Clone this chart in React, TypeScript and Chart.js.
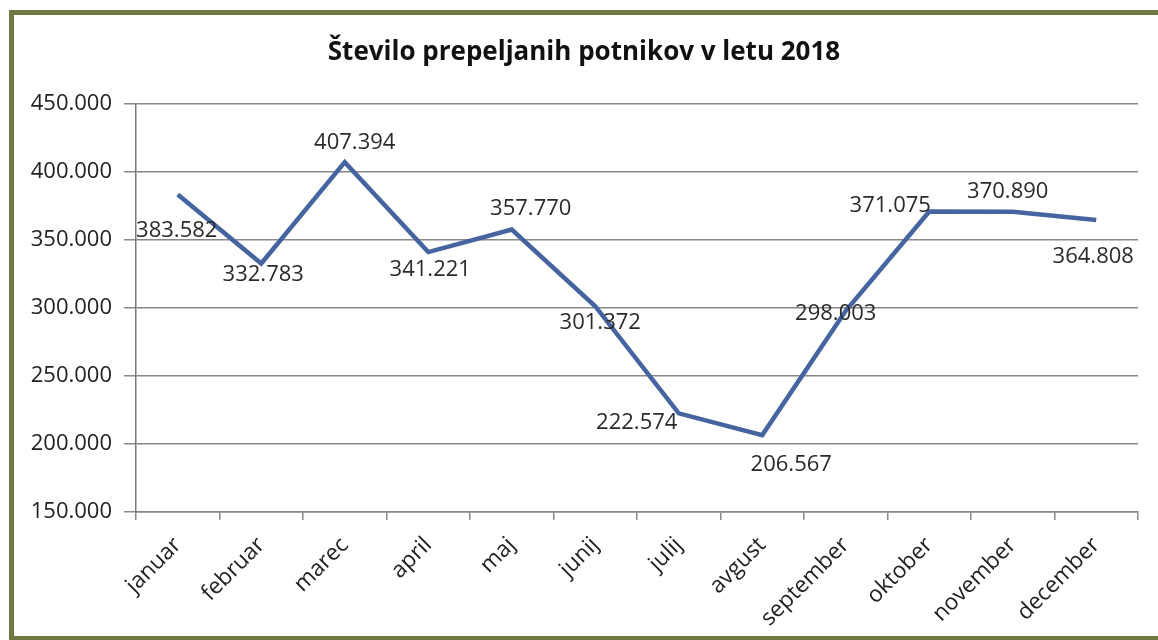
import React, { useEffect, useRef } from "react";
import { Chart, registerables } from "chart.js";

Chart.register(...registerables);

const chartTitle = "Število prepeljanih potnikov v letu 2018";
const months = [
  "januar", "februar", "marec", "april", "maj", "junij",
  "julij", "avgust", "september", "oktober", "november", "december",
];
const passengers = [
  383582, 332783, 407394, 341221, 357770, 301372,
  222574, 206567, 298003, 371075, 370890, 364808,
];
const yMin = 150000;
const yMax = 450000;
const yStep = 50000;

// label offsets (px) relative to each point: style only
const labelOffsets: [number, number][] = [
  [-1, 36], [2, 11], [10, -19], [2, 18], [19, -21], [5, 16],
  [-42, 9], [29, 30], [-10, 3], [-39, -6], [-5, -20], [-3, 37],
];

const FONT = "'Open Sans', 'DejaVu Sans', sans-serif";

function fmt(v: number): string {
  return Math.round(v).toString().replace(/\B(?=(\d{3})+(?!\d))/g, ".");
}

const dataLabelPlugin = {
  id: "dataLabels",
  afterDatasetsDraw(chart: any) {
    const ctx = chart.ctx;
    const meta = chart.getDatasetMeta(0);
    ctx.save();
    ctx.font = `22px ${FONT}`;
    ctx.fillStyle = "#2a2a2a";
    ctx.textAlign = "center";
    ctx.textBaseline = "middle";
    meta.data.forEach((pt: any, i: number) => {
      const [dx, dy] = labelOffsets[i] || [0, 0];
      ctx.fillText(fmt(passengers[i]), pt.x + dx, pt.y + dy);
    });
    ctx.restore();
  },
};

export default function App() {
  const ref = useRef<HTMLCanvasElement | null>(null);
  useEffect(() => {
    if (!ref.current) return;
    const chart = new Chart(ref.current, {
      type: "line",
      data: {
        labels: months,
        datasets: [
          {
            data: passengers,
            borderColor: "#46649f",
            borderWidth: 4.5,
            pointRadius: 0,
            tension: 0,
            fill: false,
          },
        ],
      },
      options: {
        responsive: false,
        animation: false,
        layout: { padding: { left: 30, right: 20, top: 0, bottom: 0 } },
        plugins: {
          legend: { display: false },
          tooltip: { enabled: false },
          title: {
            display: true,
            text: chartTitle,
            color: "#111",
            font: { family: FONT, size: 26, weight: "bold" },
            padding: { top: 37, bottom: 36 },
          },
        },
        scales: {
          x: {
            offset: true,
            grid: {
              offset: true,
              drawOnChartArea: false,
              drawTicks: true,
              tickLength: 8,
              color: "#888",
              lineWidth: 1.5,
            },
            border: { color: "#888", width: 1.5 },
            ticks: {
              color: "#222",
              font: { family: FONT, size: 22.5 },
              minRotation: 45,
              maxRotation: 45,
              padding: 12,
              autoSkip: false,
            },
            afterFit: (s: any) => {
              s.height = 128;
            },
          },
          y: {
            min: yMin,
            max: yMax,
            grid: {
              color: "#888",
              lineWidth: 1.5,
              tickLength: 12,
            },
            border: { color: "#777", width: 1.5 },
            ticks: {
              stepSize: yStep,
              color: "#222",
              font: { family: FONT, size: 22 },
              padding: 12,
              callback: (v: any) => fmt(Number(v)),
            },
            afterFit: (s: any) => {
              s.width = 106;
            },
          },
        },
      },
      plugins: [dataLabelPlugin],
    });
    return () => chart.destroy();
  }, []);

  return (
    <div
      style={{
        position: "fixed",
        left: 0,
        top: 0,
        width: 1158,
        height: 640,
        background: "#fff",
        overflow: "hidden",
      }}
    >
      <div
        style={{
          position: "absolute",
          left: 9,
          top: 10,
          width: 1200,
          height: 621,
          border: "5px solid #6e7a42",
        }}
      />
      <canvas
        ref={ref}
        width={1158}
        height={640}
        style={{ position: "absolute", left: 0, top: 0 }}
      />
    </div>
  );
}
